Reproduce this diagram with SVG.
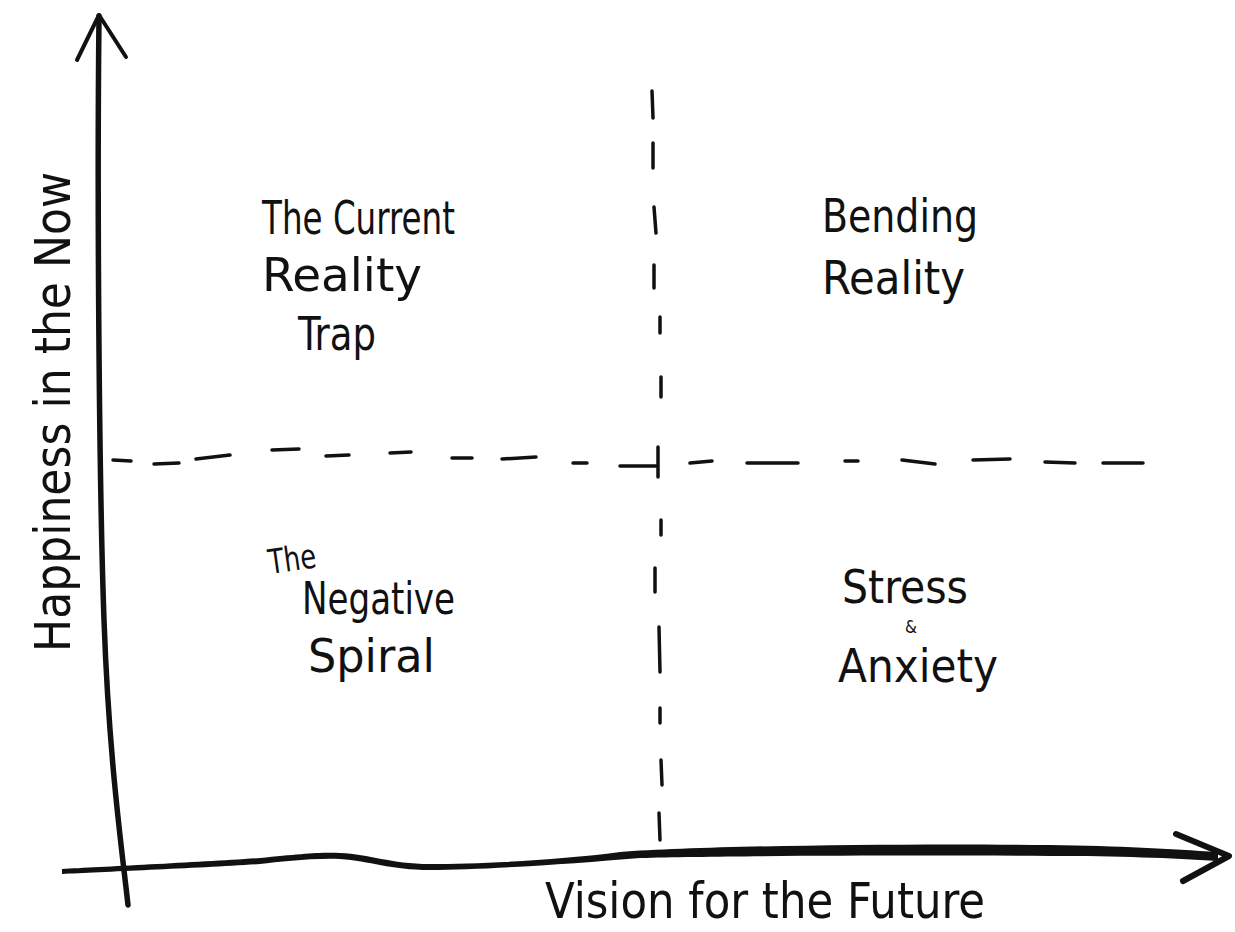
<svg xmlns="http://www.w3.org/2000/svg" width="1235" height="932" viewBox="0 0 1235 932">
<style>
.ax{fill:none;stroke:#111;stroke-linecap:round;stroke-linejoin:round}
.d{fill:none;stroke:#111;stroke-width:3.5;stroke-linecap:round}
.t{font-family:"Liberation Sans Narrow","DejaVu Sans Condensed","Liberation Sans",sans-serif;fill:#111}
</style>
<rect width="1235" height="932" fill="#fff"/>
<g id="connectors">
<g id="y-axis">
<path class="ax" stroke-width="5.5" d="M99,16 C97,200 99,480 104,620 C109,760 122,850 128,905"/>
<path class="ax" stroke-width="4" d="M77,60 L99,15 L126,57"/>
</g>
<g id="x-axis">
<path fill="#111" d="M62,869 C100,867 200,862 260,858 C300,854 320,852 340,853 C370,854 390,864 430,864 C480,864 560,860 620,852 C700,846 900,843 1050,845 C1120,846 1170,849 1218,852 L1218,861 C1170,858 1120,856 1050,856 C900,855 720,856 640,858 C570,864 480,870 430,870 C390,870 370,861 340,859 C310,858 280,862 260,864 C200,868 100,872 62,874 Z"/>
<path class="ax" stroke-width="6" d="M1176,834 L1229,856 L1183,881"/>
</g>
<g id="h-dashes">
<path class="d" d="M113,460 L131,461 M154,464 L179,463 M196,459 L230,455 M272,450 L299,449 M326,456 L349,455 M390,453 L411,452 M452,458 L472,458 M502,459 L536,457 M573,463 L587,463 M620,466 L656,466 M690,463 L712,461 M747,463 L798,463 M845,461 L858,461 M902,460 L935,464 M973,460 L1010,459 M1045,462 L1075,463 M1103,463 L1143,463"/>
</g>
<g id="v-dashes">
<path class="d" d="M652,91 L653,118 M653,143 L653,168 M654,207 L656,233 M654,265 L654,288 M660,317 L660,333 M661,377 L661,397 M658,447 L658,477 M661,520 L661,535 M655,568 L655,592 M659,627 L660,672 M660,708 L660,723 M661,760 L662,785 M659,813 L660,840"/>
</g>
</g>
<g id="q-current-reality-trap">
<text class="t" x="262" y="234" font-size="46" textLength="193" lengthAdjust="spacingAndGlyphs">The Current</text>
<text class="t" x="262" y="291" font-size="46" textLength="160" lengthAdjust="spacingAndGlyphs">Reality</text>
<text class="t" x="298" y="350" font-size="46" textLength="78" lengthAdjust="spacingAndGlyphs">Trap</text>
</g>
<g id="q-bending-reality">
<text class="t" x="822" y="232" font-size="46" textLength="156" lengthAdjust="spacingAndGlyphs">Bending</text>
<text class="t" x="822" y="294" font-size="46" textLength="143" lengthAdjust="spacingAndGlyphs">Reality</text>
</g>
<g id="q-negative-spiral">
<text class="t" x="270" y="574" font-size="34" textLength="48" lengthAdjust="spacingAndGlyphs" transform="rotate(-8 270 574)">The</text>
<text class="t" x="302" y="614" font-size="44" textLength="153" lengthAdjust="spacingAndGlyphs">Negative</text>
<text class="t" x="308" y="672" font-size="46" textLength="127" lengthAdjust="spacingAndGlyphs">Spiral</text>
</g>
<g id="q-stress-anxiety">
<text class="t" x="842" y="603" font-size="46" textLength="126" lengthAdjust="spacingAndGlyphs">Stress</text>
<text class="t" x="905" y="633" font-size="17">&amp;</text>
<text class="t" x="838" y="682" font-size="46" textLength="160" lengthAdjust="spacingAndGlyphs">Anxiety</text>
</g>
<g id="x-label">
<text class="t" x="545" y="918" font-size="50" textLength="440" lengthAdjust="spacingAndGlyphs">Vision for the Future</text>
</g>
<g id="y-label">
<text class="t" x="0" y="0" font-size="50" textLength="480" lengthAdjust="spacingAndGlyphs" transform="translate(70 652) rotate(-90)">Happiness in the Now</text>
</g>
</svg>
